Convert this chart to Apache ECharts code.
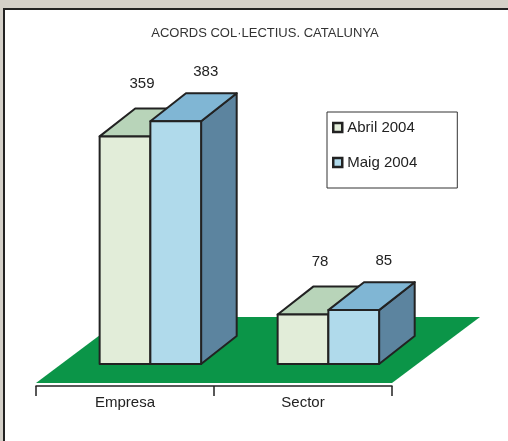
<!DOCTYPE html>
<html>
<head>
<meta charset="utf-8">
<script src="https://cdn.jsdelivr.net/npm/echarts@6/dist/echarts.min.js"></script>
<style>
    html, body {
        margin: 0;
        padding: 0;
        overflow: hidden;
        background: #d4d0c8;
    }

    .frame {
        position: absolute;
        left: 3px;
        top: 8px;
        width: 520px;
        height: 450px;
        border-top: 2px solid #222;
        border-left: 2px solid #222;
        background: #fff;
    }

    #chart {
        position: absolute;
        left: 0;
        top: 0;
        width: 508px;
        height: 441px;
    }
</style>
</head>
<body>
<div class="frame"></div>
<div id="chart"></div>
<script>
    // dades del gràfic
    const categories = ['Empresa', 'Sector'];
    const months = ['Abril 2004', 'Maig 2004'];
    const abril = [359, 78];
    const maig = [383, 85];

    const font = 'Liberation Sans, Arial, sans-serif';
    const edge = '#222';

    // caixa "3D": cara frontal, superior i lateral
    function boxItem(shift, faces, labelDx, labelDy) {
        return function (params, api) {
            const base = api.coord([api.value(0), 0]);
            const top = api.coord([api.value(0), api.value(1)]);
            const band = api.size([1, 0])[0];
            const w = band * 0.285;
            const dx = band * 0.2;
            const dy = -band * 0.157;
            const x0 = base[0] + (shift - 0.5) * w;
            const x1 = x0 + w;
            const y0 = base[1];
            const y1 = top[1];
            const line = { stroke: edge, lineWidth: 2, lineJoin: 'round' };
            return {
                type: 'group',
                children: [
                    {
                        type: 'polygon',
                        shape: { points: [[x1, y1], [x1 + dx, y1 + dy], [x1 + dx, y0 + dy], [x1, y0]] },
                        style: Object.assign({ fill: faces.side }, line)
                    },
                    {
                        type: 'polygon',
                        shape: { points: [[x0, y1], [x0 + dx, y1 + dy], [x1 + dx, y1 + dy], [x1, y1]] },
                        style: Object.assign({ fill: faces.top }, line)
                    },
                    {
                        type: 'rect',
                        shape: { x: x0, y: y1, width: w, height: y0 - y1 },
                        style: Object.assign({ fill: faces.front }, line)
                    },
                    {
                        type: 'text',
                        x: (x0 + x1) / 2 + labelDx,
                        y: y1 - labelDy,
                        style: {
                            text: String(api.value(1)),
                            fill: edge,
                            font: '15px ' + font,
                            align: 'center',
                            verticalAlign: 'middle'
                        }
                    }
                ]
            };
        };
    }

    // terra verd sota les barres
    function floorItem(params) {
        const g = params.coordSys;
        const yb = g.y + g.height;
        return {
            type: 'polygon',
            shape: {
                points: [
                    [g.x, yb + 19],
                    [g.x + g.width, yb + 19],
                    [g.x + g.width + 88, yb - 47],
                    [g.x + 88, yb - 47]
                ]
            },
            style: { fill: '#0b9548' }
        };
    }

    const myChart = echarts.init(document.getElementById('chart'));
    const option = {
        animation: false,
        title: {
            text: 'ACORDS COL·LECTIUS. CATALUNYA',
            left: 260,
            top: 22,
            textAlign: 'center',
            textStyle: {
                fontSize: 13,
                fontWeight: 'normal',
                color: '#333',
                fontFamily: font
            }
        },
        legend: {
            orient: 'vertical',
            left: 327,
            top: 112,
            padding: [8, 40, 18, 5],
            itemGap: 20,
            itemWidth: 9,
            itemHeight: 9,
            borderColor: '#333',
            borderWidth: 1,
            textStyle: {
                fontSize: 15,
                color: edge,
                fontFamily: font
            },
            data: [
                { name: months[0], icon: 'rect', itemStyle: { color: '#e2edd9', borderColor: edge, borderWidth: 2.5 } },
                { name: months[1], icon: 'rect', itemStyle: { color: '#b0daeb', borderColor: edge, borderWidth: 2.5 } }
            ]
        },
        grid: {
            left: 36,
            right: 116,
            top: 47,
            bottom: 77
        },
        xAxis: {
            type: 'category',
            data: categories,
            offset: 22,
            z: 5,
            axisLine: { show: true, onZero: false, lineStyle: { color: edge, width: 1.5 } },
            axisTick: { show: true, alignWithLabel: false, interval: 0, length: 10, lineStyle: { color: edge, width: 1.5 } },
            axisLabel: {
                margin: 9,
                fontSize: 15,
                color: edge,
                fontFamily: font
            }
        },
        yAxis: {
            type: 'value',
            min: 0,
            max: 500,
            show: false
        },
        series: [
            {
                type: 'custom',
                name: 'terra',
                z: 1,
                clip: false,
                silent: true,
                renderItem: floorItem,
                data: [[0, 0]]
            },
            {
                type: 'custom',
                name: months[0],
                z: 2,
                clip: false,
                itemStyle: { color: '#e2edd9' },
                renderItem: boxItem(0, { front: '#e2edd9', top: '#b8d4b9', side: '#8fa88f' }, 17, 53),
                data: abril.map((v, i) => [i, v])
            },
            {
                type: 'custom',
                name: months[1],
                z: 3,
                clip: false,
                itemStyle: { color: '#b0daeb' },
                renderItem: boxItem(1, { front: '#b0daeb', top: '#80b6d4', side: '#5c849f' }, 30, 49),
                data: maig.map((v, i) => [i, v])
            }
        ]
    };

    myChart.setOption(option);
</script>
</body>
</html>
